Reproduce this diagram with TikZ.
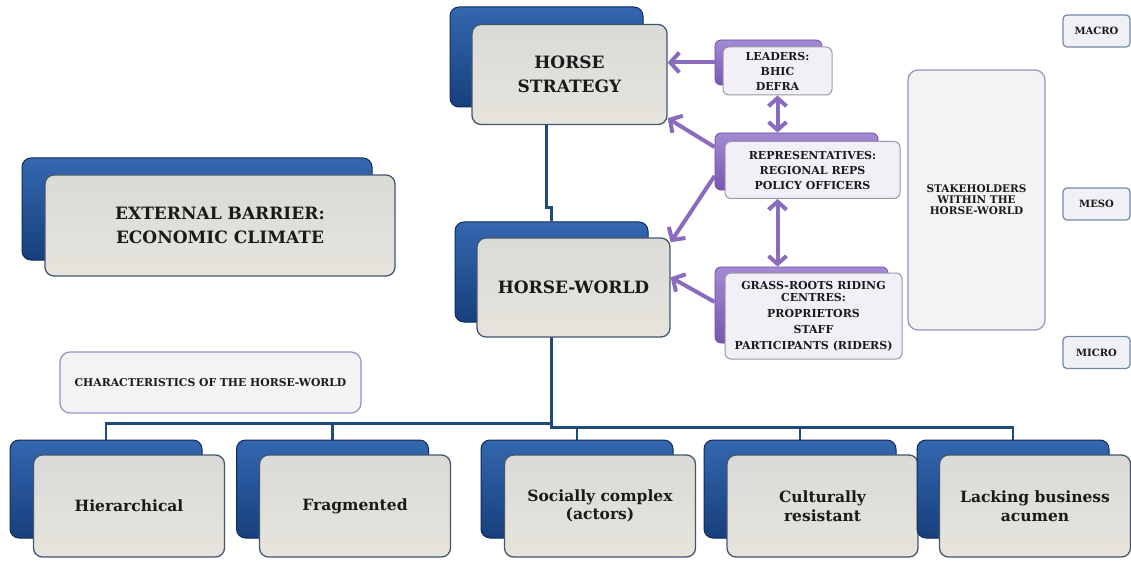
\documentclass[tikz,border=0pt]{standalone}
\usepackage{fontspec}
\setmainfont{DejaVu Serif}
\usetikzlibrary{arrows.meta,backgrounds,calc}
\definecolor{bkblueT}{HTML}{3467B0}
\definecolor{bkblueB}{HTML}{173F7C}
\definecolor{bkblueD}{HTML}{0E2B58}
\definecolor{frgreyT}{HTML}{DADAD7}
\definecolor{frgreyB}{HTML}{E6E4DC}
\definecolor{frgreyD}{HTML}{425670}
\definecolor{purT}{HTML}{A48AD2}
\definecolor{purB}{HTML}{7756B0}
\definecolor{purD}{HTML}{6B4FA0}
\definecolor{purfill}{HTML}{F2F0F6}
\definecolor{purdraw}{HTML}{9A98A8}
\definecolor{lavdraw}{HTML}{9D8FC0}
\definecolor{lavfill}{HTML}{F3F3F5}
\definecolor{lvldraw}{HTML}{7088A8}
\definecolor{lvlfill}{HTML}{EFF1F4}
\definecolor{conblue}{HTML}{1F4A7C}
\definecolor{arrpur}{HTML}{8B6BBD}
\definecolor{txt}{HTML}{1A1A1A}
\tikzset{
  bluebk/.style={draw=bkblueD, line width=1pt, top color=bkblueT, bottom color=bkblueB, rounded corners=9pt, inner sep=0pt},
  greyfr/.style={draw=frgreyD, line width=1.3pt, top color=frgreyT, bottom color=frgreyB, rounded corners=9pt, inner sep=0pt, align=center, text=txt, font=\bfseries},
  purbk/.style={draw=purD, line width=0.8pt, top color=purT, bottom color=purB, rounded corners=6pt, inner sep=0pt},
  purfr/.style={draw=purdraw, line width=1pt, fill=purfill, rounded corners=6pt, inner sep=0pt, align=center, text=txt, font=\bfseries\fontsize{11}{15}\selectfont},
  lavbox/.style={draw=lavdraw, line width=1.2pt, fill=lavfill, rounded corners=10pt, inner sep=0pt, align=center, text=txt},
  lvlbox/.style={draw=lvldraw, line width=1.2pt, fill=lvlfill, rounded corners=4pt, inner sep=0pt, align=center, text=txt, font=\bfseries\fontsize{10}{12}\selectfont, minimum width=67pt, minimum height=32pt},
  bigtxt/.style={font=\bfseries\fontsize{17}{24}\selectfont},
  smalltxt/.style={font=\bfseries\fontsize{15.5}{18.5}\selectfont},
  conn/.style={draw=conblue, line width=2.2pt},
  parr/.style={draw=arrpur, line width=4pt, -{Straight Barb[length=9pt,width=20pt,line width=4pt]}},
  pdarr/.style={draw=arrpur, line width=4pt, {Straight Barb[length=8pt,width=18pt,line width=4pt]}-{Straight Barb[length=8pt,width=18pt,line width=4pt]}},
  bottombk/.style={bluebk, minimum width=192pt, minimum height=98pt},
  bottomfr/.style={greyfr, smalltxt, minimum width=191pt, minimum height=102pt}
}
\begin{document}
\begin{tikzpicture}[x=1pt,y=-1pt]
\useasboundingbox (0,0) rectangle (1131,561);
% top boxes
\node[bluebk, minimum width=193pt, minimum height=100pt] (hsB) at (546.5,57) {};
\node[greyfr, bigtxt, minimum width=195pt, minimum height=100pt] (hs) at (569.5,74.5) {HORSE\\STRATEGY};
\node[bluebk, minimum width=350pt, minimum height=102pt] (exB) at (197,209) {};
\node[greyfr, bigtxt, minimum width=350pt, minimum height=101pt] (ex) at (220,225.5) {EXTERNAL BARRIER:\\ECONOMIC CLIMATE};
\node[bluebk, minimum width=193pt, minimum height=100pt] (hwB) at (551.5,272) {};
\node[greyfr, bigtxt, minimum width=193pt, minimum height=99pt] (hw) at (573.5,287.5) {HORSE-WORLD};
% characteristics
\node[lavbox, font=\bfseries\fontsize{10.8}{12}\selectfont, minimum width=301pt, minimum height=61pt] (ch) at (210.5,382.5) {CHARACTERISTICS OF THE HORSE-WORLD};
% bottom row
\node[bottombk] (b1B) at (106,489) {};
\node[bottomfr] (b1) at (129,506) {Hierarchical};
\node[bottombk] (b2B) at (332.5,489) {};
\node[bottomfr] (b2) at (355,506) {Fragmented};
\node[bottombk] (b3B) at (577,489) {};
\node[bottomfr] (b3) at (600,506) {Socially complex\\(actors)};
\node[bottombk] (b4B) at (800,489) {};
\node[bottomfr] (b4) at (822.5,506) {Culturally\\resistant};
\node[bottombk] (b5B) at (1013,489) {};
\node[bottomfr] (b5) at (1035,506) {Lacking business\\acumen};
% purple stakeholder boxes
\node[purbk, minimum width=107pt, minimum height=45pt] (ldB) at (768.5,62.5) {};
\node[purfr, minimum width=109pt, minimum height=48pt] (ld) at (777.5,71) {LEADERS:\\BHIC\\DEFRA};
\node[purbk, minimum width=163pt, minimum height=57pt] (rpB) at (796.5,161.5) {};
\node[purfr, minimum width=175pt, minimum height=57pt] (rp) at (812.5,170) {REPRESENTATIVES:\\REGIONAL REPS\\POLICY OFFICERS};
\node[purbk, minimum width=173pt, minimum height=76pt] (grB) at (801.5,305) {};
\node[purfr, font=\bfseries\fontsize{11}{16}\selectfont, minimum width=177pt, minimum height=86pt] (gr) at (813.5,316) {GRASS-ROOTS RIDING\\[-4pt]CENTRES:\\PROPRIETORS\\STAFF\\PARTICIPANTS (RIDERS)};
% stakeholders and levels
\node[lavbox, font=\bfseries\fontsize{10.5}{11}\selectfont, minimum width=137pt, minimum height=260pt] (sk) at (976.5,200) {STAKEHOLDERS\\WITHIN THE\\HORSE-WORLD};
\node[lvlbox] (macro) at (1096.5,31) {MACRO};
\node[lvlbox] (meso) at (1096.5,204) {MESO};
\node[lvlbox] (micro) at (1096.5,352.5) {MICRO};
% connectors
\begin{pgfonlayer}{background}
\fill[white] (0,0) rectangle (1131,561);
\draw[conn] (hsB.south) -- ++(0,100) -| (hwB.north);
\draw[conn] (hwB.south) -- ++(0,101) coordinate (tj);
\draw[conn] (tj) -| (b1B.north);
\draw[conn] (tj) -| (b2B.north);
\draw[conn] (tj) -- ++(0,4) -| (b3B.north);
\draw[conn] (tj) -- ++(0,4) -| (b4B.north);
\draw[conn] (tj) -- ++(0,4) -| (b5B.north);
\end{pgfonlayer}
% purple arrows
\draw[parr] (ldB.west) -- (hs.east |- ldB.west);
\draw[parr] (rpB.170) -- (hs.-24);
\draw[parr] (rpB.190) -- (hw.25);
\draw[parr] (grB.178) -- (hw.6);
\draw[pdarr] (ld.south) -- (ld.south |- rpB.north);
\draw[pdarr] (ld.south |- rp.south) -- (ld.south |- grB.north);
\end{tikzpicture}
\end{document}
